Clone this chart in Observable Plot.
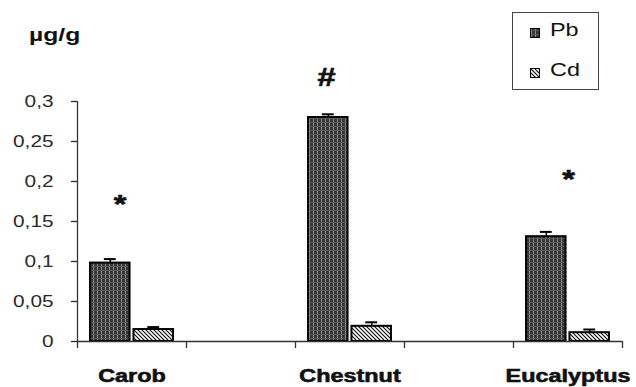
<!DOCTYPE html>
<html><head><meta charset="utf-8">
<script src="https://cdn.jsdelivr.net/npm/d3@7"></script>
<script src="https://cdn.jsdelivr.net/npm/@observablehq/plot@0.6"></script>
<style>
body{margin:0;background:#fff;}
#wrap{position:relative;width:636px;height:387px;overflow:hidden;background:#fff;}
.ov{position:absolute;white-space:nowrap;transform-origin:0 0;font-family:"Liberation Sans",Arial,sans-serif;color:#111;}
#legend{position:absolute;left:512px;top:12px;width:85px;height:76px;border:1.5px solid #444;background:#fff;}
</style></head><body><div id="wrap"></div>
<script>
// ---- data ----
const slotLabels = ["Carob", "", "Chestnut", "", "Eucalyptus"];
const categories = ["Carob", "Chestnut", "Eucalyptus"];
const series = ["Pb", "Cd"];
const pbValues = [0.098, 0.280, 0.131];
const pbErrors = [0.005, 0.004, 0.006];
const cdValues = [0.015, 0.019, 0.011];
const cdErrors = [0.003, 0.005, 0.004];
const annotations = ["*", "#", "*"];
const annotationLevels = [0.171, 0.329, 0.2025];
const annotationSlotPos = [0.39, 0.285, 0.505];
const yTicks = [0, 0.05, 0.1, 0.15, 0.2, 0.25, 0.3];
const yLabel = "µg/g";

// ---- layout helpers ----
const STRETCH = 1.3;
const sub = d3.scaleBand().domain(series).range([0, 1]).paddingInner(0.09).paddingOuter(0.3);
const slotOf = c => slotLabels.indexOf(c);
const rows = [];
categories.forEach((c, i) => {
  rows.push({cat: c, series: "Pb", value: pbValues[i], err: pbErrors[i]});
  rows.push({cat: c, series: "Cd", value: cdValues[i], err: cdErrors[i]});
});
rows.forEach(d => {
  d.x1 = slotOf(d.cat) + sub(d.series);
  d.x2 = d.x1 + sub.bandwidth();
  d.xm = (d.x1 + d.x2) / 2;
  d.top = d.value + d.err;
});
const capHalf = sub.bandwidth() * 0.15;
const notes = categories.map((c, i) => ({text: annotations[i], x: slotOf(c) + annotationSlotPos[i], y: annotationLevels[i]}));
const fmt = d => String(d).replace(".", ",");

const chart = Plot.plot({
  width: 636, height: 387,
  marginLeft: 77, marginRight: 14, marginTop: 101, marginBottom: 46,
  style: {fontFamily: "'Liberation Sans', Arial, sans-serif", background: "white", overflow: "visible"},
  x: {domain: [0, slotLabels.length], axis: null},
  y: {domain: [0, 0.3], axis: null},
  marks: [
    Plot.rectY(rows.filter(d => d.series === "Pb"), {x1: "x1", x2: "x2", y: "value", fill: "url(#pat-pb)", stroke: "#000", strokeWidth: 2}),
    Plot.rectY(rows.filter(d => d.series === "Cd"), {x1: "x1", x2: "x2", y: "value", fill: "url(#pat-cd)", stroke: "#000", strokeWidth: 2}),
    Plot.ruleX(rows, {x: "xm", y1: "value", y2: "top", stroke: "#000", strokeWidth: 1.5}),
    Plot.ruleY(rows, {y: "top", x1: d => d.xm - capHalf, x2: d => d.xm + capHalf, stroke: "#000", strokeWidth: 2}),
    Plot.ruleY([0], {stroke: "#333", strokeWidth: 1.3}),
    Plot.ruleX([0], {y1: 0, y2: 0.3, stroke: "#333", strokeWidth: 1.3}),
    Plot.axisX({ticks: d3.range(slotLabels.length + 1), tickSize: 7, tickFormat: () => "", stroke: "#333", strokeWidth: 1.3}),
    Plot.axisX({ticks: categories.map(c => slotOf(c) + 0.5), tickSize: 0, tickPadding: 28,
      tickFormat: v => slotLabels[Math.floor(v)], fontSize: 18, fontWeight: "bold", fill: "#111", label: null}),
    Plot.axisY({ticks: yTicks, tickSize: 6, tickPadding: 18, tickFormat: fmt, fontSize: 16, color: "#2a2a2a", strokeWidth: 1.3, label: null}),
    Plot.text(notes, {x: "x", y: "y", text: "text", fontSize: 25, fontWeight: "bold", fill: "#111", lineAnchor: "middle"})
  ]
});

const wrap = document.getElementById("wrap");
wrap.appendChild(chart);
chart.insertAdjacentHTML("afterbegin", `<defs>
<pattern id="pat-pb" patternUnits="userSpaceOnUse" width="4" height="4">
  <rect width="4" height="4" fill="#363636"/>
  <rect x="1" width="1" height="4" fill="#8e8e8e"/>
  <rect y="2" width="4" height="1" fill="#5c5c5c"/>
</pattern>
<pattern id="pat-cd" patternUnits="userSpaceOnUse" width="4" height="4">
  <rect width="4" height="4" fill="#fff"/>
  <path d="M-1,-1L5,5M3,-1L5,1M-1,3L1,5" stroke="#111" stroke-width="1.2"/>
</pattern>
</defs>`);

// heavier category labels
d3.select(chart).selectAll("g[font-weight='bold'] text").attr("stroke", "#111").attr("stroke-width", 0.6);

// horizontal stretch of text as in the reference
d3.select(chart).selectAll("text").each(function() {
  const w = this.getComputedTextLength();
  if (w > 0) {
    this.setAttribute("textLength", w * STRETCH);
    this.setAttribute("lengthAdjust", "spacingAndGlyphs");
  }
});

// y unit label
const ul = document.createElement("div");
ul.className = "ov";
ul.textContent = yLabel;
ul.style.cssText += `left:29px;top:24px;font-size:19px;font-weight:bold;transform:scaleX(${STRETCH});`;
wrap.appendChild(ul);

// legend
const lg = document.createElement("div");
lg.id = "legend";
wrap.appendChild(lg);
series.forEach((s, i) => {
  const sw = document.createElementNS("http://www.w3.org/2000/svg", "svg");
  sw.setAttribute("width", 10); sw.setAttribute("height", 10);
  sw.style.cssText = `position:absolute;left:17px;top:${15 + i * 40}px;`;
  sw.innerHTML = `<rect x="0.5" y="0.5" width="9" height="9" fill="url(#pat-${s.toLowerCase()})" stroke="#000" stroke-width="1"/>`;
  lg.appendChild(sw);
  const t = document.createElement("div");
  t.className = "ov";
  t.textContent = s;
  t.style.cssText += `left:37px;top:${7 + i * 40}px;font-size:18px;transform:scaleX(${STRETCH});`;
  lg.appendChild(t);
});
</script></body></html>
